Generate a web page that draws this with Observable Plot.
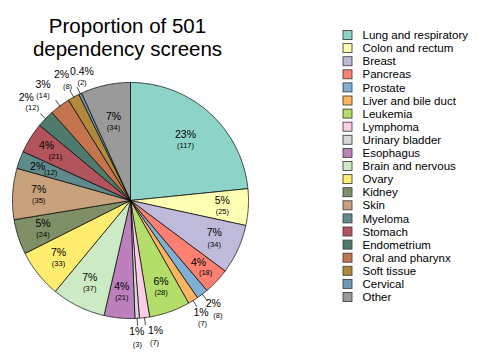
<!DOCTYPE html>
<html><head><meta charset="utf-8">
<script src="https://cdn.jsdelivr.net/npm/d3@7"></script>
<script src="https://cdn.jsdelivr.net/npm/@observablehq/plot@0.6"></script>
<style>body{margin:0;background:#fff;} #chart{width:500px;height:352px;}</style>
</head><body><div id="chart"></div>
<script>
// ---- data ----
const categories = ["Lung and respiratory","Colon and rectum","Breast","Pancreas","Prostate","Liver and bile duct","Leukemia","Lymphoma","Urinary bladder","Esophagus","Brain and nervous","Ovary","Kidney","Skin","Myeloma","Stomach","Endometrium","Oral and pharynx","Soft tissue","Cervical","Other"];
const counts = [117,25,34,18,8,7,28,7,3,21,37,33,24,35,12,21,12,14,8,2,34];
const percentLabels = ["23%","5%","7%","4%","2%","1%","6%","1%","1%","4%","7%","7%","5%","7%","2%","4%","2%","3%","2%","0.4%","7%"];
const titleLines = ["Proportion of 501","dependency screens"];
const colors = ["#8dd3c7","#ffffb3","#bebada","#fb8072","#80b1d3","#fdb462","#b3de69","#fccde5","#d9d9d9","#bc80bd","#ccebc5","#ffed6f","#7f8f66","#c8a27c","#5f8b8c","#b1545b","#4f7b6d","#c4744f","#b08a3a","#6f9ab4","#9a9a9a"];

// ---- label layout (placement only) ----
const outsideLabels = new Set(["Prostate","Liver and bile duct","Lymphoma","Urinary bladder","Endometrium","Oral and pharynx","Soft tissue","Cervical"]);
// r: label radius; da: angular nudge (deg); p/c: [dx,dy] offsets of the percent / count lines
const labelTweaks = {
  "Lung and respiratory": {r: 82},
  "Other": {r: 80},
  "Pancreas": {p: [1, -1], c: [8, 9]},
  "Stomach": {p: [-6, -6], c: [3, 5]},
  "Myeloma": {p: [-6.5, -2], c: [6.5, 4]},
  "Prostate": {r: 137, p: [-0.5, -6], c: [4, 6]},
  "Liver and bile duct": {r: 137.5, da: 0.7, p: [-1, -5], c: [0.5, 6]},
  "Lymphoma": {r: 138, da: -3.6, c: [-1, 6.5]},
  "Urinary bladder": {r: 137, da: 0.6, c: [0.5, 7]},
  "Endometrium": {r: 140.5, p: [-3, -5], c: [3, 5]},
  "Oral and pharynx": {r: 140.5, da: -1.8},
  "Soft tissue": {r: 137, p: [-3, -6], c: [3, 6]},
  "Cervical": {r: 133, da: 3.8}
};

// ---- layout ----
const W = 500, H = 352, cx = 130, cy = 200, R = 118;
const rows = categories.map((c, i) => ({cat: c, count: counts[i], pct: percentLabels[i]}));
const arcs = d3.pie().sort(null).value(d => d.count)(rows);
const px = (a, r) => cx + r * Math.sin(a);
const py = (a, r) => cy - r * Math.cos(a);

const poly = [];
arcs.forEach(a => {
  poly.push({cat: a.data.cat, x: cx, y: cy});
  const n = Math.max(2, Math.ceil((a.endAngle - a.startAngle) / 0.01));
  for (let k = 0; k <= n; k++) {
    const t = a.startAngle + (a.endAngle - a.startAngle) * k / n;
    poly.push({cat: a.data.cat, x: px(t, R), y: py(t, R)});
  }
  poly.push({cat: a.data.cat, x: cx, y: cy});
});

const labels = arcs.map(a => {
  const m = (a.startAngle + a.endAngle) / 2;
  const out = outsideLabels.has(a.data.cat);
  const tw = labelTweaks[a.data.cat] || {};
  const r = tw.r ?? (out ? 138 : 92);
  const ang = m + (tw.da || 0) * Math.PI / 180;
  const p = tw.p || [0, -5.5], c = tw.c || [0, 5.5];
  const x = px(ang, r), y = py(ang, r);
  return {cat: a.data.cat, pct: a.data.pct, cnt: `(${a.data.count})`,
          xp: x + p[0], yp: y + p[1], xc: x + c[0], yc: y + c[1], out, m};
});
const ticks = [];
labels.filter(d => d.out).forEach(d => {
  ticks.push({cat: d.cat, x: px(d.m, R), y: py(d.m, R)});
  ticks.push({cat: d.cat, x: px(d.m, R + 7), y: py(d.m, R + 7)});
});

const legendRows = categories.map((c, i) => ({cat: c, y: 35 + i * 13.1}));

const chart = Plot.plot({
  width: W, height: H, margin: 0,
  x: {domain: [0, W], range: [0, W], axis: null},
  y: {domain: [0, H], range: [0, H], axis: null},
  color: {type: "ordinal", domain: categories, range: colors},
  style: {fontFamily: "'Liberation Sans', Arial, Helvetica, sans-serif", background: "#fff", color: "#000"},
  marks: [
    Plot.line(poly, {x: "x", y: "y", z: "cat", fill: "cat", stroke: "#000", strokeWidth: 0.7, strokeLinejoin: "round", curve: "linear"}),
    Plot.line(ticks, {x: "x", y: "y", z: "cat", stroke: "#000", strokeWidth: 0.7}),
    Plot.text(labels, {x: "xp", y: "yp", text: "pct", fontSize: 10.5, fill: "#000"}),
    Plot.text(labels, {x: "xc", y: "yc", text: "cnt", fontSize: 7.5, fill: "#000"}),
    Plot.text(titleLines, {x: () => 127, y: (d, i) => 26.3 + i * 22.5, text: d => d, fontSize: 20.5, fill: "#000"}),
    Plot.rect(legendRows, {x1: () => 343, x2: () => 352, y1: d => d.y - 4.5, y2: d => d.y + 4.5, fill: "cat", stroke: "#444", strokeWidth: 0.9}),
    Plot.text(legendRows, {x: () => 362, y: "y", text: "cat", textAnchor: "start", fontSize: 11.5, fill: "#000"})
  ]
});
document.getElementById("chart").append(chart);
</script>
</body></html>
